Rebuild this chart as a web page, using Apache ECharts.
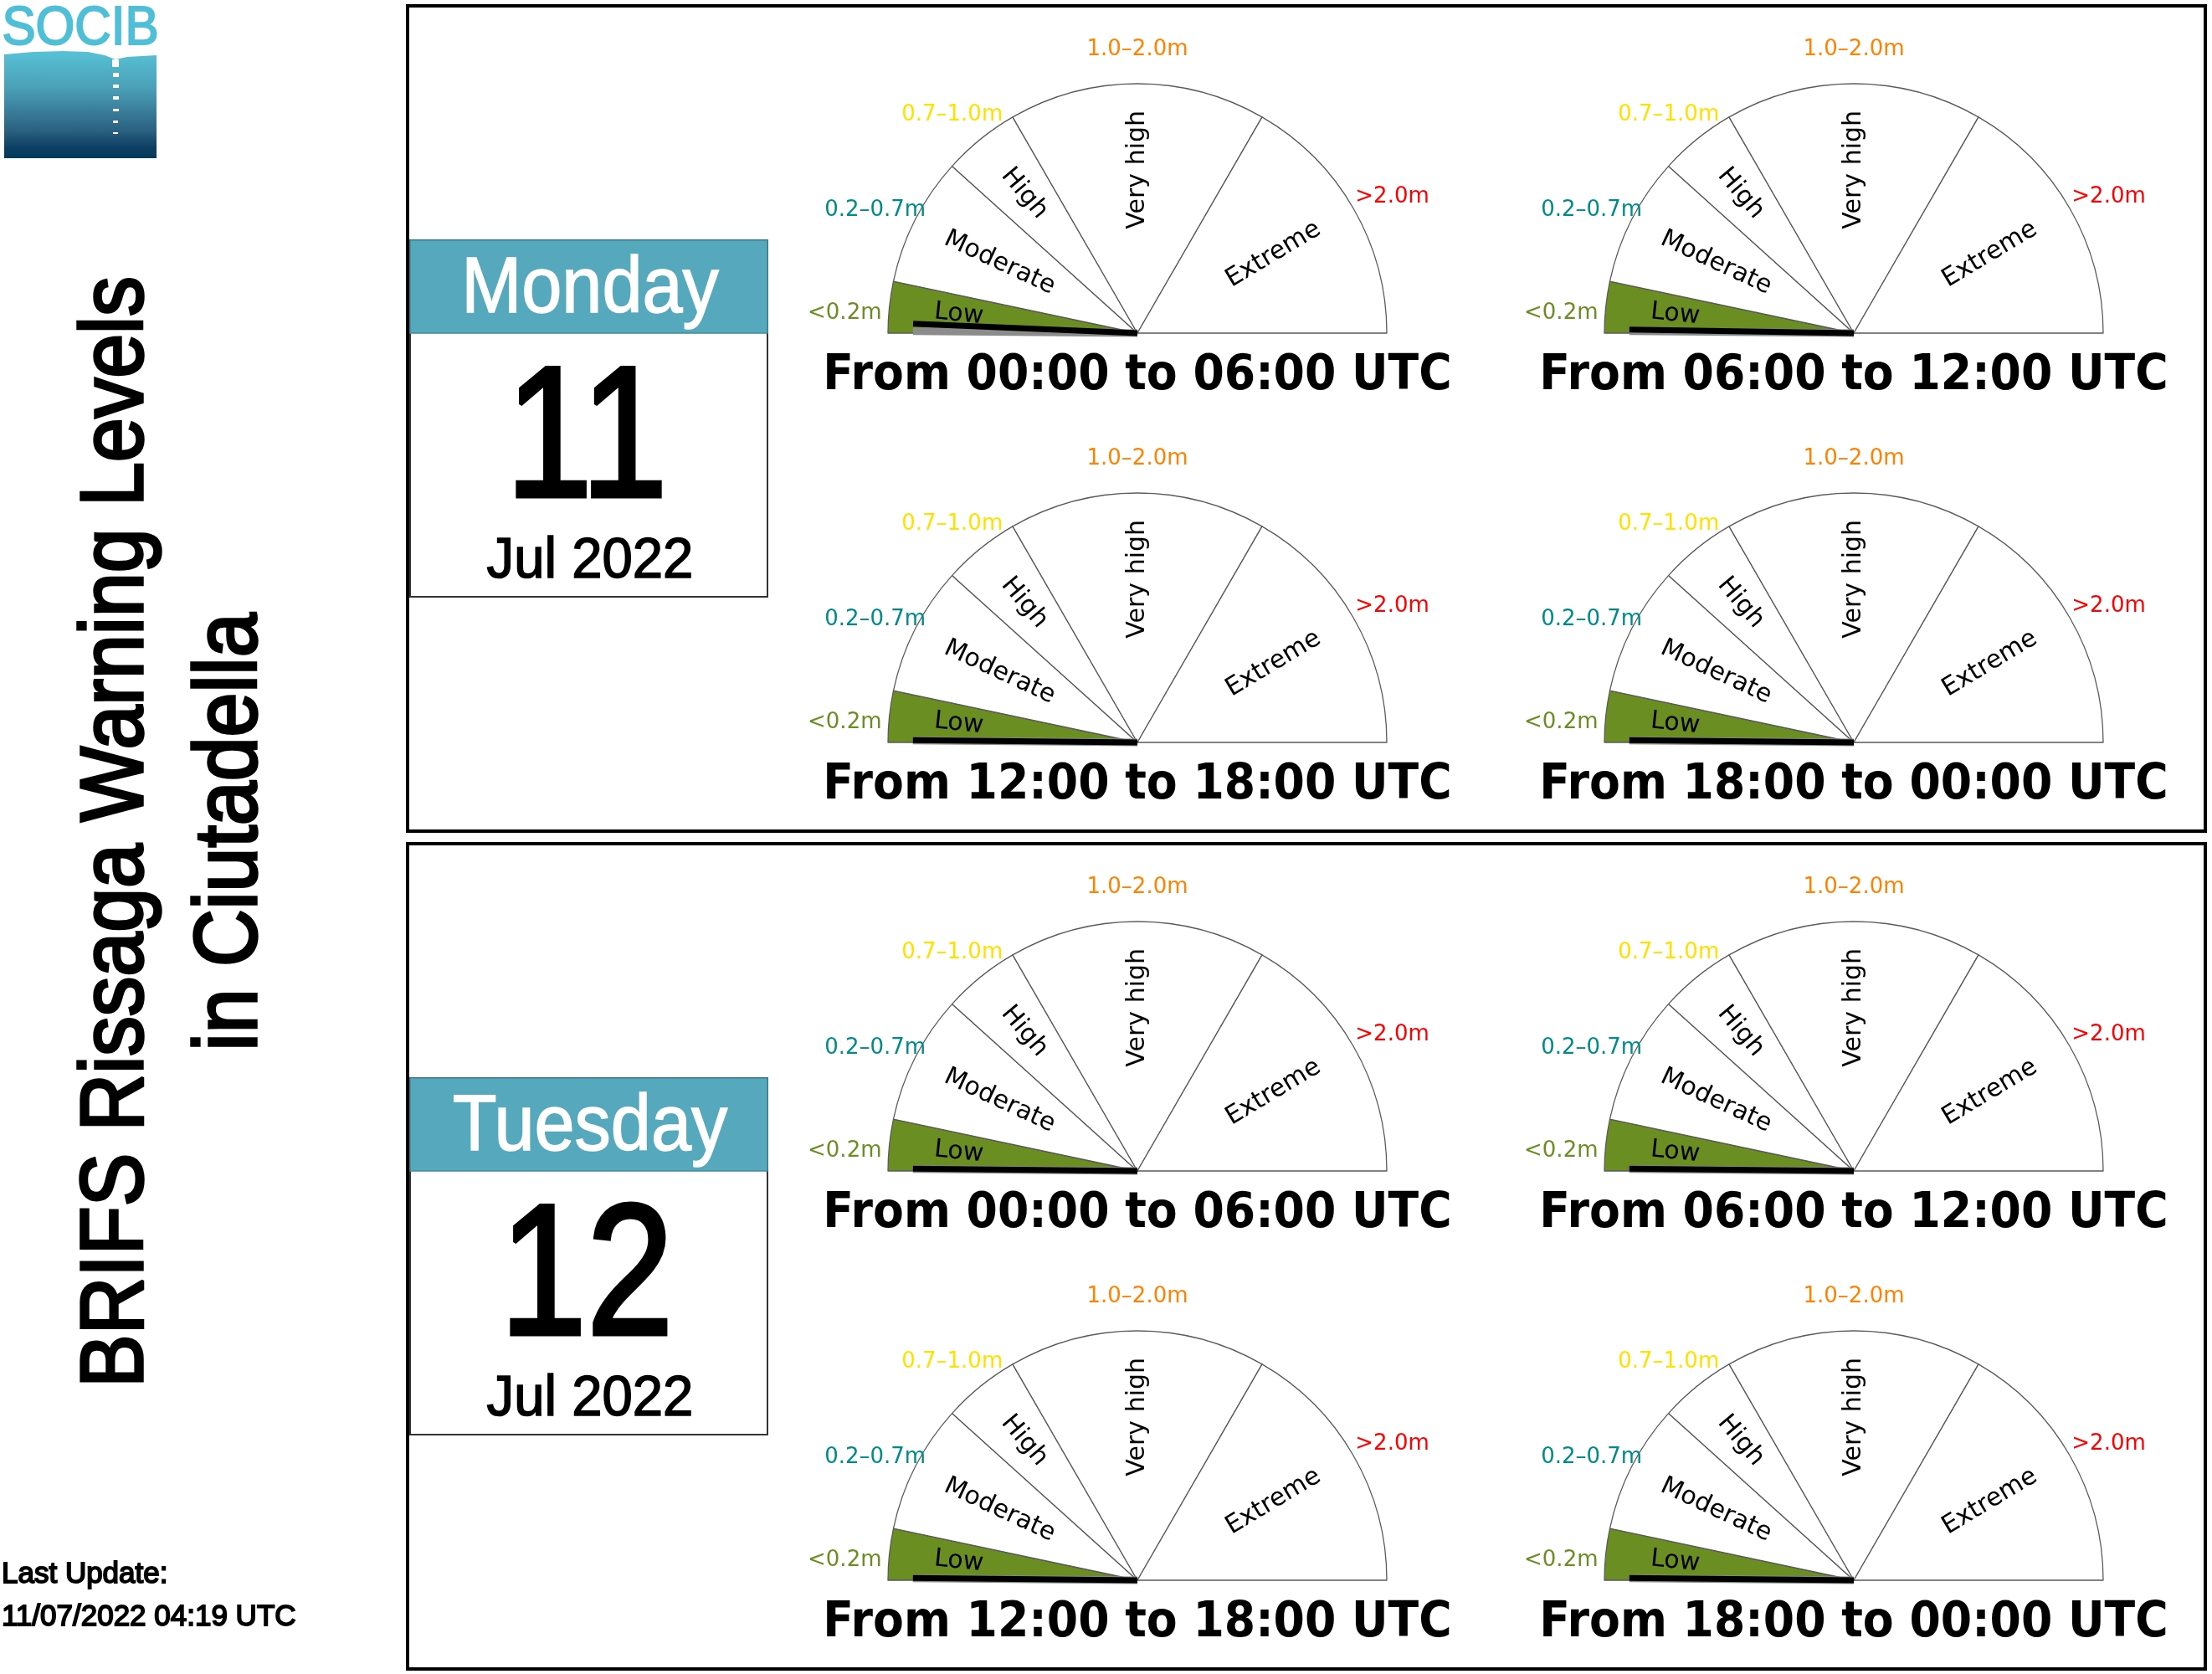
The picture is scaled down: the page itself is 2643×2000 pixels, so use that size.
<!DOCTYPE html>
<html><head><meta charset="utf-8">
<script src="https://cdn.jsdelivr.net/npm/echarts@6/dist/echarts.min.js"></script>
<style>html,body{margin:0;padding:0;background:#fff}#c{width:2643px;height:2000px}</style>
</head><body><div id="c"></div>
<script>
// ---------------- data ----------------
const dayNames = ['Monday', 'Tuesday'];
const dayNumbers = ['11', '12'];
const monthYears = ['Jul 2022', 'Jul 2022'];
const periodLabels = ['From 00:00 to 06:00 UTC', 'From 06:00 to 12:00 UTC', 'From 12:00 to 18:00 UTC', 'From 18:00 to 00:00 UTC'];
const levelNames = ['Low', 'Moderate', 'High', 'Very high', 'Extreme'];
const levelRanges = ['<0.2m', '0.2–0.7m', '0.7–1.0m', '1.0–2.0m', '>2.0m'];
const levelBreaks = [0, 0.2, 0.7, 1.0, 2.0, 3.0];
const mondayHeights = [0.04, 0.015, 0.01, 0.01];
const tuesdayHeights = [0.01, 0.01, 0.01, 0.01];
const restHeight = 0.008;
const titleLines = ['BRIFS Rissaga Warning Levels', 'in Ciutadella'];
const updateLines = ['Last Update:', '11/07/2022 04:19 UTC'];

// ---------------- style / layout ----------------
const rangeColors = ['#6b8e23', '#008b8b', '#ffe100', '#ff8200', '#ff0000'];
const sectorFill = ['#6b8e23', '#ffffff', '#ffffff', '#ffffff', '#ffffff'];
const innerRotate = [-6, -25, -50, 90, 31];
const innerRadius = [0.71, 0.61, 0.71, 0.645, 0.62];
const R = 298;
const colX = [1359, 2215];
const rowY = [398, 887];
const panelY = [0, 1001];
const heights = [mondayHeights, tuesdayHeights];

const spans = levelNames.map((n, i) => levelBreaks[i + 1] - levelBreaks[i]);
const total = levelBreaks[levelBreaks.length - 1] - levelBreaks[0];
const hiddenItem = () => ({ name: '', value: total, itemStyle: { color: 'rgba(0,0,0,0)', borderWidth: 0 }, label: { show: false } });

function gaugeSeries(cx, cy, value) {
  const list = [];
  list.push({
    type: 'pie', z: 2, center: [cx, cy], radius: [0, R], startAngle: 180, clockwise: true,
    silent: true, avoidLabelOverlap: false, emphasis: { disabled: true },
    label: { show: false }, labelLine: { show: false },
    itemStyle: { borderColor: '#5a5a5a', borderWidth: 1.3 },
    data: levelNames.map((n, i) => ({ name: n, value: spans[i], itemStyle: { color: sectorFill[i] } })).concat([hiddenItem()])
  });
  const radii = [...new Set(innerRadius)];
  radii.forEach(f => {
    list.push({
      type: 'pie', z: 2, center: [cx, cy], radius: [0, 2 * f * R], startAngle: 180, clockwise: true,
      silent: true, avoidLabelOverlap: false, emphasis: { disabled: true }, labelLine: { show: false },
      itemStyle: { color: 'rgba(0,0,0,0)', borderWidth: 0 },
      label: { position: 'inside', fontFamily: 'DejaVu Sans', fontSize: 30, color: '#000' },
      data: levelNames.map((n, i) => ({
        name: n, value: spans[i],
        label: { show: innerRadius[i] === f, rotate: innerRotate[i], formatter: '{b}' }
      })).concat([hiddenItem()])
    });
  });
  list.push({
    type: 'pie', z: 2, center: [cx, cy], radius: [1.1 * R, 1.24 * R], startAngle: 180, clockwise: true,
    silent: true, avoidLabelOverlap: false, emphasis: { disabled: true }, labelLine: { show: false },
    itemStyle: { color: 'rgba(0,0,0,0)', borderWidth: 0 },
    label: { position: 'inside', fontFamily: 'DejaVu Sans', fontSize: 26, lineHeight: 26, rotate: 0 },
    data: levelRanges.map((n, i) => ({
      name: n, value: spans[i], label: { show: true, color: rangeColors[i], formatter: '\n{b}' }
    })).concat([hiddenItem()])
  });
  const needle = (v, color, w, z) => ({
    type: 'gauge', z: z, center: [cx, cy], radius: R, startAngle: 180, endAngle: 0,
    min: levelBreaks[0], max: levelBreaks[levelBreaks.length - 1],
    axisLine: { show: false }, splitLine: { show: false }, axisTick: { show: false }, axisLabel: { show: false },
    anchor: { show: false }, title: { show: false }, detail: { show: false },
    pointer: { show: true, icon: 'rect', length: '90%', width: w, itemStyle: { color: color } },
    itemStyle: { color: color },
    data: [{ value: v }]
  });
  list.push(needle(restHeight, '#8c8c8c', 9, 5));
  list.push(needle(value, '#000000', 7, 6));
  return list;
}

const series = [];
const graphic = [];

panelY.forEach((py, d) => {
  graphic.push({ type: 'rect', shape: { x: 487, y: 7 + py, width: 2148, height: 986 }, style: { fill: 'none', stroke: '#000', lineWidth: 4 } });
  graphic.push({ type: 'rect', shape: { x: 490, y: 287 + py, width: 427, height: 426 }, style: { fill: '#fff', stroke: '#333', lineWidth: 2 } });
  graphic.push({ type: 'rect', shape: { x: 490, y: 287 + py, width: 427, height: 111 }, style: { fill: '#56a8bd', stroke: '#3f8ca0', lineWidth: 1.5 } });
  graphic.push({ type: 'text', x: 705, y: 347 + py, scaleX: 0.92, style: { text: dayNames[d], font: 'normal 94px "Liberation Sans"', fill: '#fff', stroke: '#fff', lineWidth: 1.5, align: 'center', verticalAlign: 'middle' } });
  graphic.push({ type: 'text', x: 701, y: 532 + py, scaleX: 0.84, style: { text: dayNumbers[d], font: 'normal 222px "Liberation Sans"', fill: '#000', stroke: '#000', lineWidth: 5, align: 'center', verticalAlign: 'middle' } });
  graphic.push({ type: 'text', x: 705, y: 671 + py, scaleX: 0.96, style: { text: monthYears[d], font: 'normal 68px "Liberation Sans"', fill: '#000', stroke: '#000', lineWidth: 1.6, align: 'center', verticalAlign: 'middle' } });
  for (let r = 0; r < 2; r++) {
    for (let c = 0; c < 2; c++) {
      const k = r * 2 + c;
      const cx = colX[c], cy = rowY[r] + py;
      series.push(...gaugeSeries(cx, cy, heights[d][k]));
      graphic.push({ type: 'text', x: cx, y: cy + 52, scaleX: 0.91, z: 10, style: { text: periodLabels[k], font: 'bold 59px "DejaVu Sans"', fill: '#000', align: 'center', verticalAlign: 'middle' } });
    }
  }
});

graphic.push({ type: 'text', x: 141, y: 994, rotation: Math.PI / 2, scaleX: 0.905, style: { text: titleLines[0], font: 'normal 105px "Liberation Sans"', fill: '#000', stroke: '#000', lineWidth: 3.5, align: 'center', verticalAlign: 'middle' } });
graphic.push({ type: 'text', x: 277, y: 994, rotation: Math.PI / 2, scaleX: 0.905, style: { text: titleLines[1], font: 'normal 105px "Liberation Sans"', fill: '#000', stroke: '#000', lineWidth: 3.5, align: 'center', verticalAlign: 'middle' } });

graphic.push({ type: 'text', x: 2, y: 1881, style: { text: updateLines[0], font: 'normal 35px "Liberation Sans"', fill: '#000', stroke: '#000', lineWidth: 1.8, align: 'left', verticalAlign: 'middle' } });
graphic.push({ type: 'text', x: 2, y: 1932, style: { text: updateLines[1], font: 'normal 35px "Liberation Sans"', fill: '#000', stroke: '#000', lineWidth: 1.8, align: 'left', verticalAlign: 'middle' } });

graphic.push({ type: 'text', x: 96, y: 35, scaleX: 0.94, style: { text: 'SOCIB', font: 'normal 64px "Liberation Sans"', fill: '#4ebfd7', stroke: '#4ebfd7', lineWidth: 2, align: 'center', verticalAlign: 'middle' } });
graphic.push({ type: 'polygon', shape: { points: [[5, 65], [40, 62], [75, 61], [105, 62], [125, 66], [138, 71], [152, 68], [187, 66], [187, 189], [5, 189]] },
  style: { fill: new echarts.graphic.LinearGradient(0, 0, 0, 1, [
    { offset: 0, color: '#58c2d6' }, { offset: 0.35, color: '#4a9fb6' }, { offset: 0.75, color: '#2a5f80' }, { offset: 0.9, color: '#0d3f62' }, { offset: 1, color: '#003a5e' }]) } });
[[134, 71, 8, 9], [135, 87, 7, 5], [135, 101, 7, 4], [135, 115, 7, 4], [135, 130, 7, 3], [135, 144, 6, 3], [135, 158, 6, 2]].forEach(b => {
  graphic.push({ type: 'rect', shape: { x: b[0], y: b[1], width: b[2], height: b[3] }, style: { fill: '#fff' } });
});

const chart = echarts.init(document.getElementById('c'), null, { renderer: 'canvas', width: 2643, height: 2000 });
chart.setOption({ backgroundColor: '#fff', animation: false, series: series, graphic: graphic });
</script></body></html>
